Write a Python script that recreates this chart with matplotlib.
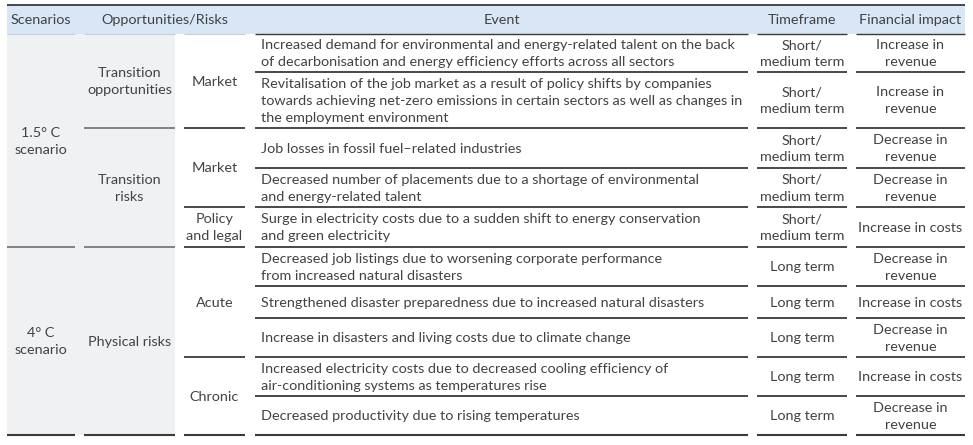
import matplotlib
matplotlib.use("Agg")
import matplotlib.pyplot as plt

plt.rcParams['font.family'] = ['Lato', 'DejaVu Sans']

# ---------------- data ----------------
headers = ["Scenarios", "Opportunities/Risks", "Event", "Timeframe", "Financial impact"]

scenarios = ["1.5° C\nscenario", "4° C\nscenario"]
scenario_rows = [(0, 5), (5, 10)]          # row spans (start, end)

categories = ["Transition\nopportunities", "Transition\nrisks", "Physical risks"]
category_rows = [(0, 2), (2, 5), (5, 10)]

subcategories = ["Market", "Market", "Policy\nand legal", "Acute", "Chronic"]
subcategory_rows = [(0, 2), (2, 4), (4, 5), (5, 8), (8, 10)]

events = [
    "Increased demand for environmental and energy-related talent on the back\nof decarbonisation and energy efficiency efforts across all sectors",
    "Revitalisation of the job market as a result of policy shifts by companies\ntowards achieving net-zero emissions in certain sectors as well as changes in\nthe employment environment",
    "Job losses in fossil fuel–related industries",
    "Decreased number of placements due to a shortage of environmental\nand energy-related talent",
    "Surge in electricity costs due to a sudden shift to energy conservation\nand green electricity",
    "Decreased job listings due to worsening corporate performance\nfrom increased natural disasters",
    "Strengthened disaster preparedness due to increased natural disasters",
    "Increase in disasters and living costs due to climate change",
    "Increased electricity costs due to decreased cooling efficiency of\nair-conditioning systems as temperatures rise",
    "Decreased productivity due to rising temperatures",
]
timeframes = ["Short/\nmedium term"] * 5 + ["Long term"] * 5
impacts = [
    "Increase in\nrevenue", "Increase in\nrevenue", "Decrease in\nrevenue",
    "Decrease in\nrevenue", "Increase in costs", "Decrease in\nrevenue",
    "Increase in costs", "Decrease in\nrevenue", "Increase in costs",
    "Decrease in\nrevenue",
]

# ---------------- layout ----------------
W, H = 973, 445
col_edges = [(7, 75), (84, 175), (184, 245), (255, 748), (757, 847), (856, 965)]
header_top, header_bot = 5, 34
row_edges = [34, 72, 128, 168, 207, 247, 286, 318, 357, 396, 435]

TEXT = "#424242"
LINE = "#3a3a3a"
LINE_LIGHT = "#7a7a7a"
HEAD_BG = "#d8e6f6"
GRAY_BG = "#f0f1f3"
FS = 10.35
LS = 1.5

fig = plt.figure(figsize=(W / 100, H / 100), dpi=100)
ax = fig.add_axes([0, 0, 1, 1])
ax.set_xlim(0, W)
ax.set_ylim(H, 0)
ax.axis("off")

# backgrounds
ax.add_patch(plt.Rectangle((col_edges[0][0], header_top), col_edges[-1][1] - col_edges[0][0],
                           header_bot - header_top, color=HEAD_BG, lw=0, zorder=0))
ax.add_patch(plt.Rectangle((col_edges[0][0], row_edges[0]), col_edges[1][1] - col_edges[0][0],
                           row_edges[-1] - row_edges[0], color=GRAY_BG, lw=0, zorder=0))

# header lines
ax.plot([col_edges[0][0], col_edges[-1][1]], [header_top, header_top], color=LINE, lw=1.3, zorder=2,
        solid_capstyle="butt")
for i, (a, b) in enumerate(col_edges):
    ax.plot([a, b], [header_bot, header_bot], color=LINE if i >= 3 else "#c9ced6",
            lw=1.0 if i >= 3 else 0.8, zorder=2, solid_capstyle="butt")

def cx(i):
    return (col_edges[i][0] + col_edges[i][1]) / 2

def cy(span):
    return (row_edges[span[0]] + row_edges[span[1]]) / 2 + 0.8

# header texts
hy = (header_top + header_bot) / 2 + 0.5
ax.text(cx(0), hy, headers[0], ha="center", va="center", fontsize=FS, color=TEXT)
ax.text((col_edges[1][0] + col_edges[2][1]) / 2, hy, headers[1], ha="center", va="center", fontsize=FS, color=TEXT)
ax.text(cx(3), hy, headers[2], ha="center", va="center", fontsize=FS, color=TEXT)
ax.text(cx(4), hy, headers[3], ha="center", va="center", fontsize=FS, color=TEXT)
ax.text(cx(5), hy, headers[4], ha="center", va="center", fontsize=FS, color=TEXT)


def hline(col, y, color=LINE, lw=1.3):
    a, b = col_edges[col]
    ax.plot([a, b], [y, y], color=color, lw=lw, zorder=2, solid_capstyle="butt")

# merged columns
for col, labels, spans in [(0, scenarios, scenario_rows), (1, categories, category_rows),
                           (2, subcategories, subcategory_rows)]:
    for lab, sp in zip(labels, spans):
        ax.text(cx(col), cy(sp), lab, ha="center", va="center", fontsize=FS, color=TEXT,
                linespacing=LS)
        last = sp[1] == len(events)
        if col < 2 and not last:
            hline(col, row_edges[sp[1]], color=LINE_LIGHT, lw=1.3)
        else:
            hline(col, row_edges[sp[1]], lw=1.5 if last else 1.3)

# per-row columns
for r in range(len(events)):
    yc = cy((r, r + 1))
    ax.text(col_edges[3][0] + 6, yc, events[r], ha="left", va="center", fontsize=FS,
            color=TEXT, linespacing=LS)
    ax.text(cx(4), yc, timeframes[r], ha="center", va="center", fontsize=FS, color=TEXT,
            linespacing=LS)
    ax.text(cx(5), yc, impacts[r], ha="center", va="center", fontsize=FS, color=TEXT,
            linespacing=LS)
    last = r == len(events) - 1
    for c in (3, 4, 5):
        hline(c, row_edges[r + 1], lw=1.5 if last else 1.3)

fig.savefig("out.png", dpi=100)
